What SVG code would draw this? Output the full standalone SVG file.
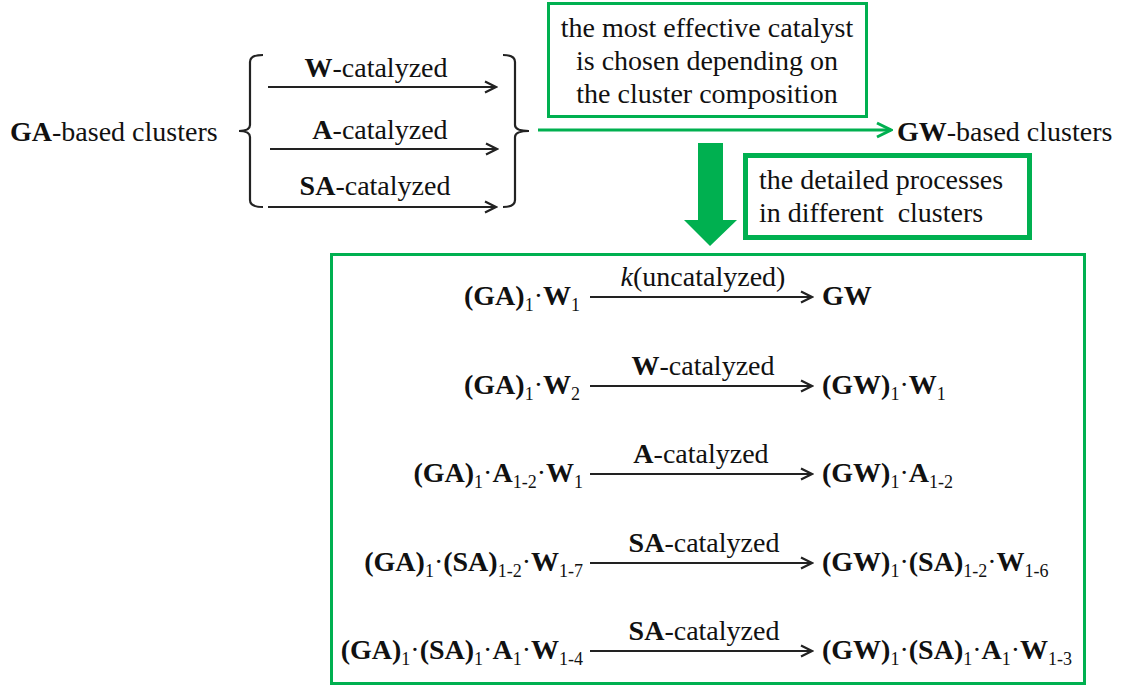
<svg xmlns="http://www.w3.org/2000/svg" width="1129" height="687" viewBox="0 0 1129 687">
<defs>
<marker id="ah" viewBox="0 0 14 14" refX="12.5" refY="7" markerWidth="14" markerHeight="14" markerUnits="userSpaceOnUse" orient="auto">
<path d="M1.5,1.5 L12.5,7 L1.5,12.5" fill="none" stroke="#222" stroke-width="2.2"/>
</marker>
<marker id="gah" viewBox="0 0 18 18" refX="16" refY="9" markerWidth="18" markerHeight="18" markerUnits="userSpaceOnUse" orient="auto">
<path d="M2,2 L16,9 L2,16" fill="none" stroke="#00B050" stroke-width="3"/>
</marker>
</defs>
<rect width="1129" height="687" fill="#fff"/>

<g id="ga-clusters"><text x="10" y="141" style="font-family:'Liberation Serif';font-size:28px;fill:#111"><tspan font-weight="bold">GA</tspan>-based clusters</text></g>

<g id="brackets" fill="none" stroke="#222" stroke-width="2.2">
<path d="M263,55 Q250,55 250,62 L250,125 Q250,131 239,131 Q250,131 250,137 L250,200 Q250,207 263,207"/>
<path d="M503,55 Q515,55 515,62 L515,125 Q515,131 529,131 Q515,131 515,137 L515,200 Q515,207 503,207"/>
</g>

<g id="top-labels">
<text x="376" y="77" text-anchor="middle" style="font-family:'Liberation Serif';font-size:28px;fill:#111"><tspan font-weight="bold">W</tspan>-catalyzed</text>
<text x="380" y="139" text-anchor="middle" style="font-family:'Liberation Serif';font-size:28px;fill:#111"><tspan font-weight="bold">A</tspan>-catalyzed</text>
<text x="375" y="195" text-anchor="middle" style="font-family:'Liberation Serif';font-size:28px;fill:#111"><tspan font-weight="bold">SA</tspan>-catalyzed</text>
</g>

<g id="note-box">
<rect x="548.5" y="3.5" width="318" height="113" fill="none" stroke="#00B050" stroke-width="3"/>
<text x="707" y="37" text-anchor="middle" style="font-family:'Liberation Serif';font-size:28px;fill:#111">the most effective catalyst</text>
<text x="707" y="70" text-anchor="middle" style="font-family:'Liberation Serif';font-size:28px;fill:#111">is chosen depending on</text>
<text x="707" y="103" text-anchor="middle" style="font-family:'Liberation Serif';font-size:28px;fill:#111">the cluster composition</text>
</g>

<g id="gw-clusters"><text x="897" y="141" style="font-family:'Liberation Serif';font-size:28px;fill:#111"><tspan font-weight="bold">GW</tspan>-based clusters</text></g>

<g id="detail-box">
<rect x="745.5" y="155.5" width="284" height="82" fill="none" stroke="#00B050" stroke-width="5"/>
<text x="759" y="189" style="font-family:'Liberation Serif';font-size:28px;fill:#111">the detailed processes</text>
<text x="759" y="222" style="font-family:'Liberation Serif';font-size:28px;fill:#111">in different&#160; clusters</text>
</g>

<g id="main-box">
<rect x="331.5" y="254.5" width="753" height="429" fill="none" stroke="#00B050" stroke-width="3"/>
</g>

<g id="connectors" stroke="#222" stroke-width="2.2" fill="none">
<line x1="268" y1="87" x2="496" y2="87" marker-end="url(#ah)"/>
<line x1="270" y1="149" x2="497" y2="149" marker-end="url(#ah)"/>
<line x1="268" y1="207" x2="496" y2="207" marker-end="url(#ah)"/>
<line x1="538" y1="130" x2="891" y2="130" stroke="#00B050" stroke-width="3" marker-end="url(#gah)"/>
<polygon points="698,143 723,143 723,220 737,220 710,246 684,220 698,220" fill="#00B050" stroke="none"/>
<line x1="590" y1="297" x2="812" y2="297" marker-end="url(#ah)"/>
<line x1="590" y1="386" x2="812" y2="386" marker-end="url(#ah)"/>
<line x1="590" y1="474" x2="812" y2="474" marker-end="url(#ah)"/>
<line x1="590" y1="563" x2="812" y2="563" marker-end="url(#ah)"/>
<line x1="590" y1="651" x2="812" y2="651" marker-end="url(#ah)"/>
</g>

<g id="row1">
<text x="580" y="305" text-anchor="end" style="font-family:'Liberation Serif';font-size:28px;fill:#111;font-weight:bold">(GA)<tspan font-size="18" font-weight="normal" dy="6">1</tspan><tspan font-weight="normal" dy="-6">·</tspan>W<tspan font-size="18" font-weight="normal" dy="6">1</tspan></text>
<text x="703" y="286" text-anchor="middle" style="font-family:'Liberation Serif';font-size:28px;fill:#111"><tspan font-style="italic">k</tspan>(uncatalyzed)</text>
<text x="822" y="305" style="font-family:'Liberation Serif';font-size:28px;fill:#111;font-weight:bold">GW</text>
</g>

<g id="row2">
<text x="580" y="394" text-anchor="end" style="font-family:'Liberation Serif';font-size:28px;fill:#111;font-weight:bold">(GA)<tspan font-size="18" font-weight="normal" dy="6">1</tspan><tspan font-weight="normal" dy="-6">·</tspan>W<tspan font-size="18" font-weight="normal" dy="6">2</tspan></text>
<text x="703" y="375" text-anchor="middle" style="font-family:'Liberation Serif';font-size:28px;fill:#111"><tspan font-weight="bold">W</tspan>-catalyzed</text>
<text x="822" y="394" style="font-family:'Liberation Serif';font-size:28px;fill:#111;font-weight:bold">(GW)<tspan font-size="18" font-weight="normal" dy="6">1</tspan><tspan font-weight="normal" dy="-6">·</tspan>W<tspan font-size="18" font-weight="normal" dy="6">1</tspan></text>
</g>

<g id="row3">
<text x="583" y="482" text-anchor="end" style="font-family:'Liberation Serif';font-size:28px;fill:#111;font-weight:bold">(GA)<tspan font-size="18" font-weight="normal" dy="6">1</tspan><tspan font-weight="normal" dy="-6">·</tspan>A<tspan font-size="18" font-weight="normal" dy="6">1-2</tspan><tspan font-weight="normal" dy="-6">·</tspan>W<tspan font-size="18" font-weight="normal" dy="6">1</tspan></text>
<text x="701" y="463" text-anchor="middle" style="font-family:'Liberation Serif';font-size:28px;fill:#111"><tspan font-weight="bold">A</tspan>-catalyzed</text>
<text x="822" y="482" style="font-family:'Liberation Serif';font-size:28px;fill:#111;font-weight:bold">(GW)<tspan font-size="18" font-weight="normal" dy="6">1</tspan><tspan font-weight="normal" dy="-6">·</tspan>A<tspan font-size="18" font-weight="normal" dy="6">1-2</tspan></text>
</g>

<g id="row4">
<text x="583" y="571" text-anchor="end" style="font-family:'Liberation Serif';font-size:28px;fill:#111;font-weight:bold">(GA)<tspan font-size="18" font-weight="normal" dy="6">1</tspan><tspan font-weight="normal" dy="-6">·</tspan>(SA)<tspan font-size="18" font-weight="normal" dy="6">1-2</tspan><tspan font-weight="normal" dy="-6">·</tspan>W<tspan font-size="18" font-weight="normal" dy="6">1-7</tspan></text>
<text x="704" y="552" text-anchor="middle" style="font-family:'Liberation Serif';font-size:28px;fill:#111"><tspan font-weight="bold">SA</tspan>-catalyzed</text>
<text x="822" y="571" style="font-family:'Liberation Serif';font-size:28px;fill:#111;font-weight:bold">(GW)<tspan font-size="18" font-weight="normal" dy="6">1</tspan><tspan font-weight="normal" dy="-6">·</tspan>(SA)<tspan font-size="18" font-weight="normal" dy="6">1-2</tspan><tspan font-weight="normal" dy="-6">·</tspan>W<tspan font-size="18" font-weight="normal" dy="6">1-6</tspan></text>
</g>

<g id="row5">
<text x="583" y="659" text-anchor="end" style="font-family:'Liberation Serif';font-size:28px;fill:#111;font-weight:bold">(GA)<tspan font-size="18" font-weight="normal" dy="6">1</tspan><tspan font-weight="normal" dy="-6">·</tspan>(SA)<tspan font-size="18" font-weight="normal" dy="6">1</tspan><tspan font-weight="normal" dy="-6">·</tspan>A<tspan font-size="18" font-weight="normal" dy="6">1</tspan><tspan font-weight="normal" dy="-6">·</tspan>W<tspan font-size="18" font-weight="normal" dy="6">1-4</tspan></text>
<text x="704" y="640" text-anchor="middle" style="font-family:'Liberation Serif';font-size:28px;fill:#111"><tspan font-weight="bold">SA</tspan>-catalyzed</text>
<text x="822" y="659" style="font-family:'Liberation Serif';font-size:28px;fill:#111;font-weight:bold">(GW)<tspan font-size="18" font-weight="normal" dy="6">1</tspan><tspan font-weight="normal" dy="-6">·</tspan>(SA)<tspan font-size="18" font-weight="normal" dy="6">1</tspan><tspan font-weight="normal" dy="-6">·</tspan>A<tspan font-size="18" font-weight="normal" dy="6">1</tspan><tspan font-weight="normal" dy="-6">·</tspan>W<tspan font-size="18" font-weight="normal" dy="6">1-3</tspan></text>
</g>
</svg>
